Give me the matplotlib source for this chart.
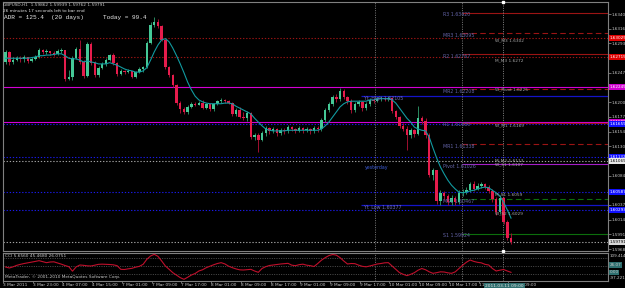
import matplotlib
matplotlib.use("Agg")
import matplotlib.pyplot as plt

# ---------------- data ----------------
symbol_line = "GBPUSD,H1  1.59862 1.59939 1.59762 1.59791"
timer_line = "26 minutes 17 seconds left to bar end"
adr_text = "ADR = 125.4  (20 days)"
today_text = "Today = 99.4"
cci_title = "CCI 5.6560 45.4680 26.0751"
copyright_text = "MetaTrader, \u00a9 2001-2010 MetaQuotes Software Corp."

first_open = 1.6264
closes = [1.6280, 1.6264, 1.6267, 1.6270, 1.6269, 1.6272, 1.6266, 1.6269, 1.6272, 1.6283,
          1.6280, 1.6282, 1.6278, 1.6276, 1.6282, 1.6283, 1.6237, 1.6240, 1.6270, 1.6285,
          1.6264, 1.6242, 1.6293, 1.6263, 1.6244, 1.6255, 1.6261, 1.6267, 1.6275, 1.6263,
          1.6245, 1.6250, 1.6248, 1.6250, 1.6240, 1.6248, 1.6253, 1.6256, 1.6294, 1.6323,
          1.6327, 1.6321, 1.6299, 1.6256, 1.6244, 1.6228, 1.6199, 1.6190, 1.6185, 1.6193,
          1.6198, 1.6196, 1.6199, 1.6191, 1.6198, 1.6190, 1.6198, 1.6202, 1.6204, 1.6202,
          1.6199, 1.6182, 1.6188, 1.6177, 1.6175, 1.6183, 1.6145, 1.6149, 1.6141, 1.6152,
          1.6160, 1.6155, 1.6158, 1.6152, 1.6156, 1.6155, 1.6161, 1.6158, 1.6155, 1.6160,
          1.6156, 1.6158, 1.6155, 1.6160, 1.6158, 1.6172, 1.6188, 1.6198, 1.6209, 1.6206,
          1.6218, 1.6209, 1.6202, 1.6188, 1.6198, 1.6201, 1.6191, 1.6198, 1.6204, 1.6202,
          1.6206, 1.6207, 1.6206, 1.6207, 1.6187, 1.6177, 1.6163, 1.6158, 1.6149, 1.6156,
          1.6150, 1.6175, 1.6171, 1.6149, 1.6085, 1.6093, 1.6044, 1.6057, 1.6052, 1.6042,
          1.6049, 1.6042, 1.6057, 1.6058, 1.6061, 1.6071, 1.6063, 1.6068, 1.6071, 1.6066,
          1.6060, 1.6047, 1.6027, 1.6049, 1.6011, 1.59862, 1.59791]
highs = [1.6283, 1.6282, 1.6272, 1.6274, 1.6274, 1.6275, 1.6272, 1.6272, 1.6275, 1.6286,
         1.6285, 1.6285, 1.6282, 1.6282, 1.6285, 1.6286, 1.6283, 1.6251, 1.6274, 1.6288,
         1.6299, 1.6267, 1.6296, 1.6296, 1.6266, 1.6258, 1.6264, 1.6270, 1.6277, 1.6278,
         1.6264, 1.6253, 1.6251, 1.6253, 1.6250, 1.6250, 1.6256, 1.6258, 1.6297, 1.6327,
         1.6335, 1.6332, 1.6323, 1.6301, 1.6258, 1.6245, 1.6229, 1.6202, 1.6193, 1.6196,
         1.6201, 1.6201, 1.6202, 1.6204, 1.6199, 1.6199, 1.6199, 1.6204, 1.6207, 1.6206,
         1.6204, 1.6201, 1.6191, 1.6193, 1.6185, 1.6187, 1.6185, 1.6152, 1.6152, 1.6155,
         1.6163, 1.6161, 1.6161, 1.6160, 1.6160, 1.6160, 1.6164, 1.6163, 1.6160, 1.6163,
         1.6161, 1.6161, 1.6160, 1.6163, 1.6163, 1.6175, 1.6191, 1.6201, 1.6212, 1.6213,
         1.6223, 1.6221, 1.6210, 1.6206, 1.6201, 1.6204, 1.6202, 1.6201, 1.6207, 1.6207,
         1.6209, 1.6210, 1.6209, 1.6210, 1.6209, 1.6188, 1.6179, 1.6168, 1.6163, 1.6160,
         1.6158, 1.6194, 1.6179, 1.6175, 1.6152, 1.6096, 1.6093, 1.6061, 1.6060, 1.6055,
         1.6054, 1.6052, 1.6061, 1.6063, 1.6066, 1.6074, 1.6076, 1.6073, 1.6074, 1.6073,
         1.6069, 1.6063, 1.6050, 1.6054, 1.6050, 1.6014, 1.59939]
lows = [1.6261, 1.6259, 1.6261, 1.6266, 1.6264, 1.6264, 1.6263, 1.6264, 1.6267, 1.6270,
        1.6277, 1.6277, 1.6275, 1.6274, 1.6275, 1.6278, 1.6234, 1.6236, 1.6236, 1.6269,
        1.6261, 1.6239, 1.6240, 1.6259, 1.6240, 1.6240, 1.6253, 1.6258, 1.6266, 1.6259,
        1.6242, 1.6244, 1.6245, 1.6247, 1.6239, 1.6239, 1.6247, 1.6248, 1.6255, 1.6293,
        1.6320, 1.6318, 1.6297, 1.6253, 1.6240, 1.6225, 1.6196, 1.6183, 1.6182, 1.6182,
        1.6191, 1.6194, 1.6196, 1.6190, 1.6190, 1.6187, 1.6187, 1.6196, 1.6199, 1.6199,
        1.6198, 1.6179, 1.6179, 1.6175, 1.6172, 1.6171, 1.6142, 1.6141, 1.6122, 1.6139,
        1.6147, 1.6150, 1.6152, 1.6147, 1.6149, 1.6150, 1.6152, 1.6155, 1.6152, 1.6153,
        1.6152, 1.6153, 1.6150, 1.6152, 1.6153, 1.6155, 1.6169, 1.6185, 1.6194, 1.6201,
        1.6202, 1.6206, 1.6198, 1.6183, 1.6185, 1.6194, 1.6187, 1.6188, 1.6194, 1.6199,
        1.6201, 1.6202, 1.6202, 1.6203, 1.6183, 1.6174, 1.6160, 1.6155, 1.6125, 1.6144,
        1.6145, 1.6149, 1.6166, 1.6144, 1.6082, 1.6077, 1.6039, 1.6038, 1.6046, 1.6038,
        1.6038, 1.6038, 1.6039, 1.6052, 1.6055, 1.6058, 1.6060, 1.6061, 1.6065, 1.6063,
        1.6057, 1.6042, 1.6022, 1.6023, 1.6008, 1.5982, 1.59762]
ma_values = [1.6270, 1.6270, 1.6270, 1.6270, 1.6270, 1.6270, 1.6270, 1.6271, 1.6272, 1.6274,
             1.6274, 1.6275, 1.6275, 1.6276, 1.6277, 1.6277, 1.6274, 1.6270, 1.6269, 1.6269,
             1.6267, 1.6264, 1.6266, 1.6264, 1.6263, 1.6261, 1.6261, 1.6261, 1.6263, 1.6261,
             1.6259, 1.6256, 1.6253, 1.6251, 1.6250, 1.6248, 1.6248, 1.6250, 1.6255, 1.6267,
             1.6280, 1.6291, 1.6299, 1.6301, 1.6296, 1.6286, 1.6274, 1.6261, 1.6247, 1.6232,
             1.6220, 1.6210, 1.6204, 1.6201, 1.6199, 1.6198, 1.6198, 1.6198, 1.6198, 1.6199,
             1.6199, 1.6198, 1.6194, 1.6191, 1.6188, 1.6185, 1.6182, 1.6175, 1.6169, 1.6163,
             1.6158, 1.6156, 1.6155, 1.6155, 1.6155, 1.6155, 1.6156, 1.6156, 1.6156, 1.6156,
             1.6156, 1.6156, 1.6156, 1.6156, 1.6156, 1.6158, 1.6163, 1.6169, 1.6177, 1.6185,
             1.6193, 1.6198, 1.6201, 1.6202, 1.6202, 1.6202, 1.6202, 1.6202, 1.6204, 1.6204,
             1.6206, 1.6206, 1.6206, 1.6206, 1.6204, 1.6199, 1.6191, 1.6183, 1.6175, 1.6169,
             1.6161, 1.6158, 1.6156, 1.6155, 1.6145, 1.6128, 1.6112, 1.6098, 1.6087, 1.6077,
             1.6069, 1.6063, 1.6058, 1.6057, 1.6058, 1.6060, 1.6061, 1.6063, 1.6065, 1.6066,
             1.6065, 1.6061, 1.6057, 1.6052, 1.6042, 1.6030, 1.6017]
cci_values = [-12, -24, -10, 8, 20, 30, 38, 45, 55, 64,
              52, 40, 48, 50, 36, 22, 6, -8, -62, -10,
              12, 8, 2, 0, 10, 20, 22, 20, 18, 14,
              4, -40, -42, -34, -28, -14, -4, 20, 80, 120,
              140, 116, 60, 0, -40, -80, -110, -140, -160, -135,
              -108, -90, -60, -45, -20, -2, 15, 30, 40, 25,
              -2, -20, -35, -46, -48, -44, -40, -60, -76, -30,
              -8, 6, 12, 18, 24, 28, 32, 10, 4, 16,
              22, 10, 4, -6, 30, 70, 100, 125, 138, 130,
              100, 60, 24, 30, 28, 10, -4, -10, 0, 12,
              24, 30, 38, 40, 0, -40, -80, -100, -116, -100,
              -80, -50, -30, -45, -70, -88, -80, -70, -72, -82,
              -88, -70, -30, 10, 45, 72, 55, 44, 38, 20,
              12, -30, -60, -50, -42, -60, -76]
cci_levels = [100, 0, -100]

price_ticks = [1.63400, 1.63168, 1.62935, 1.62703, 1.62470, 1.62238, 1.62005, 1.61773, 1.61540,
               1.61308, 1.61075, 1.60843, 1.60610, 1.60378, 1.60145, 1.59913, 1.59680]
time_labels = ["3 Mar 2011", "3 Mar 23:00", "4 Mar 07:00", "4 Mar 15:00", "7 Mar 01:00",
               "7 Mar 09:00", "7 Mar 17:00", "8 Mar 01:00", "8 Mar 09:00", "8 Mar 17:00",
               "9 Mar 01:00", "9 Mar 09:00", "9 Mar 17:00", "10 Mar 01:00", "10 Mar 09:00",
               "10 Mar 17:00", "11 Mar 01:00", "11 Mar 09:00"]
cursor_time = "2011.03.11 09:00"

# full width level lines (weekly / monthly / bid)
level_names = ["W_M3", "M_M3", "W_Pivot", "W_M1", None, "M_M2", "W_S1", "M_S1", "W_S2", None]
level_prices = [1.63025, 1.62715, 1.62249, 1.61686, 1.61659, 1.61132, 1.61069, 1.60587, 1.60293, 1.59791]
# daily pivot lines (start at today's session)
pivot_names = ["R3", "MR3", "R2", "MR2", "R1", "MR1", "Pivot", "MS1", "S1"]
pivot_values = [1.63420, 1.63095, 1.62767, 1.62208, 1.61680, 1.61338, 1.61026, 1.60467, 1.59924]
yt_high = 1.62105
yt_low = 1.60377

# ---------------- styles ----------------
DRED = "#9b1414"
MAG = "#d400d4"
BLUE = "#1a1ae6"
GRAY = "#a0a0a0"
GREEN = "#0c6e0c"
PURP = "#a41ec8"
DOT = (0, (1.2, 1.6))
DASH = (0, (5, 3))
level_styles = [(DRED, DOT), (DRED, DOT), (MAG, "-"), (MAG, "-"), (BLUE, DOT),
                (BLUE, DOT), (GRAY, DOT), (BLUE, DOT), (BLUE, DOT), (GRAY, DOT)]
level_boxes = ["#e00000", "#e00000", "#d000d0", "#d000d0", "#1010ff",
               "#1010ff", "#e8e8e8", "#1010ff", "#1010ff", "#d8d8d8"]
pivot_styles = [(DRED, "-"), (DRED, DASH), (DRED, "-"), (DRED, DASH), (DRED, "-"),
                (DRED, DASH), (PURP, "-"), (GREEN, DASH), (GREEN, "-")]

BULL = "#45c896"
BEAR = "#e61c4c"
BULL_W = "#2a8a60"
BEAR_W = "#a01030"
FRAME = "#808080"
TXT = "#c8c8c8"

W, H = 625, 288
fig = plt.figure(figsize=(W / 100, H / 100), dpi=100, facecolor="black")

def fx(px):
    return px / W

def fy(py):
    return 1 - py / H

ax = fig.add_axes([fx(3), fy(250.5), fx(605), (250.5 - 2) / H])
axc = fig.add_axes([fx(3), fy(280.5), fx(605), (280.5 - 253) / H], sharex=ax)
for a in (ax, axc):
    a.set_facecolor("black")
    for s in a.spines.values():
        s.set_color(FRAME)
        s.set_linewidth(0.8)

n = len(closes)
xs = list(range(n))
opens = [first_open] + closes[:-1]
today_start = 122.9
yest_start = 95.6
day_lines = [99.3, 122.9]
cursor_bar = 133.8

ax.set_xlim(-0.13, 162.1)
ax.set_ylim(1.59657, 1.63590)

# level lines
for p, (c, ls) in zip(level_prices, level_styles):
    ax.axhline(p, color=c, ls=ls, lw=0.8, zorder=1)
for p, (c, ls) in zip(pivot_values, pivot_styles):
    ax.hlines(p, today_start, 162.1, color=c, ls=ls, lw=0.8, zorder=1)
ax.hlines([yt_high, yt_low], yest_start, 162.1, color="#1414c8", lw=0.9, zorder=1)

for xv in day_lines:
    ax.axvline(xv, color="#8a8a8a", ls=DOT, lw=0.6, zorder=1)
    axc.axvline(xv, color="#8a8a8a", ls=DOT, lw=0.6, zorder=1)
ax.axvline(cursor_bar, color="#9a9a9a", ls=DOT, lw=0.6, zorder=1)
axc.axvline(cursor_bar, color="#9a9a9a", ls=DOT, lw=0.6, zorder=1)

# candles
bull = [c >= o for o, c in zip(opens, closes)]
ax.vlines(xs, lows, highs, colors=[BULL_W if b else BEAR_W for b in bull], lw=0.7, zorder=3)
bottoms = [min(o, c) for o, c in zip(opens, closes)]
heights = [max(abs(c - o), 0.00012) for o, c in zip(opens, closes)]
ax.bar(xs, heights, bottom=bottoms, width=0.66, color=[BULL if b else BEAR for b in bull],
       linewidth=0, zorder=4)

# moving average
ax.plot(xs, ma_values, color="#119aa0", lw=0.8, zorder=5)

# labels of lines
fs_lab = 3.1
for name, p in zip(level_names, level_prices):
    if name:
        ax.annotate(f"{name} {p:.4f}", xy=(131.8, p), xytext=(0, -2.2), textcoords="offset points",
                    fontsize=fs_lab, color="#a8a8a8", va="center", ha="left", zorder=6)
for name, p in zip(pivot_names, pivot_values):
    ax.annotate(f"{name} {p:.5f}", xy=(117.6, p), xytext=(0, -1.6), textcoords="offset points",
                fontsize=fs_lab + 0.3, color="#6464a8", va="center", ha="left", zorder=6)
ax.annotate(f"Yt_High {yt_high:.5f}", xy=(96.4, yt_high), xytext=(0, -1.8), textcoords="offset points",
            fontsize=fs_lab + 0.3, color="#7070b8", va="center", ha="left", zorder=6)
ax.annotate(f"Yt_Low {yt_low:.5f}", xy=(96.4, yt_low), xytext=(0, -1.8), textcoords="offset points",
            fontsize=fs_lab + 0.3, color="#7070b8", va="center", ha="left", zorder=6)
ax.text(96.6, 1.60963, "yesterday", fontsize=fs_lab + 0.3, color="#3c5cd8", va="center", ha="left", zorder=6)

# price axis
ax.yaxis.tick_right()
ax.set_yticks(price_ticks)
ax.set_yticklabels([f"{t:.5f}" for t in price_ticks])
ax.tick_params(axis="y", colors=FRAME, labelcolor=TXT, labelsize=3.0, length=2, width=0.6, pad=0.8)
ax.tick_params(axis="x", bottom=False, labelbottom=False)

for p, fc in zip(level_prices, level_boxes):
    tc = "black" if fc.startswith("#e8") or fc.startswith("#d8") else "white"
    ax.annotate(f"{p:.5f}", xy=(1, p), xycoords=("axes fraction", "data"), xytext=(1.2, 0),
                textcoords="offset points", fontsize=3.0, color=tc, ha="left", va="center",
                annotation_clip=False, zorder=10,
                bbox=dict(boxstyle="square,pad=0.2", fc=fc, ec="none"))

# cursor marks
ax.plot([cursor_bar], [1.63590], marker="s", ms=1.6, color="white", clip_on=False, zorder=9)
ax.plot([cursor_bar], [1.59657], marker="s", ms=1.6, color="white", clip_on=False, zorder=9)

# CCI panel
axc.set_ylim(-174, 156)
for lv in cci_levels:
    axc.axhline(lv, color="#5a5a5a", ls=DOT, lw=0.6, zorder=1)
axc.plot(xs, cci_values, color="#c0102c", lw=0.8, zorder=3)
axc.set_yticks([])
axc.text(0.003, 0.88, cci_title, transform=axc.transAxes, fontsize=3.1, color=TXT, va="center", ha="left")
axc.text(0.003, 0.14, copyright_text, transform=axc.transAxes, fontsize=3.1, color=TXT, va="center", ha="left")
for txt, yv, fc in [("109.414", 0.89, None), ("26.07", 0.56, "#2e6e6e"), ("0.00", 0.30, "#2e6e6e"),
                    ("-97.2212", 0.08, None)]:
    kw = dict(bbox=dict(boxstyle="square,pad=0.15", fc=fc, ec="none")) if fc else {}
    axc.annotate(txt, xy=(1, yv), xycoords="axes fraction", xytext=(1.2, 0), textcoords="offset points",
                 fontsize=3.0, color=TXT, ha="left", va="center", annotation_clip=False, **kw)

axc.set_xticks([8 * k - 0.7 for k in range(len(time_labels))])
axc.set_xticklabels(time_labels)
axc.tick_params(axis="x", colors=FRAME, labelcolor=TXT, labelsize=3.1, length=1.5, width=0.6, pad=0.6)
for lab in axc.get_xticklabels():
    lab.set_ha("left")
axc.annotate(cursor_time, xy=(134.2, 0), xycoords=("data", "axes fraction"), xytext=(0, -4.3),
             textcoords="offset points", fontsize=3.2, color="#e0e0e0", ha="center", va="center",
             annotation_clip=False, zorder=10,
             bbox=dict(boxstyle="square,pad=0.3", fc="#2f6f6f", ec="none"))

# header texts
fig.text(fx(3), fy(5), symbol_line, fontsize=3.1, color=TXT, va="center", ha="left")
fig.text(fx(3), fy(10.5), timer_line, fontsize=3.1, color="#e0e0e0", va="center", ha="left")
fig.text(fx(4), fy(17), adr_text, fontsize=4.4, family="Liberation Mono", color="#e8e8e8", va="center", ha="left")
fig.text(fx(103), fy(17), today_text, fontsize=4.4, family="Liberation Mono", color="#e8e8e8", va="center", ha="left")

fig.savefig("out.png", dpi=100, facecolor="black")
